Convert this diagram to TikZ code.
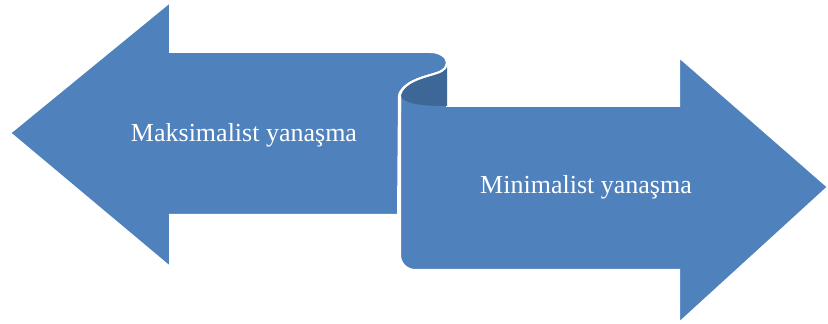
\documentclass[tikz,border=0pt]{standalone}
\usepackage{fontspec}
\setmainfont{Liberation Serif}
\usepackage{xcolor}
\usepackage{tikz}
\usetikzlibrary{positioning}
\usetikzlibrary{calc}

\definecolor{arrowblue}{HTML}{4F81BD}
\definecolor{curlblue}{HTML}{3D6796}

\begin{document}
\begin{tikzpicture}[x=0.5pt,y=-0.5pt,
    arrowshape/.style={fill=arrowblue,draw=white,line width=1pt,line join=miter},
    curlshape/.style={fill=curlblue},
    label/.style={text=white,font=\fontsize{13}{15}\selectfont,inner sep=0pt}]
  \useasboundingbox (0,0) rectangle (828,324);
  % left arrow, its tail rolled up
  \draw[arrowshape] (10,133) -- (170,2) -- (170,52) -- (430,52)
    arc[start angle=-90,end angle=60,x radius=17,y radius=11]
    .. controls (428,76.5) and (404,80) .. (399,95) -- (398,215)
    -- (170,215) -- (170,267) -- cycle;
  % right arrow
  \draw[arrowshape] (447,63) -- (447,106) -- (679,106) -- (679,57) -- (828,187)
    -- (679,323) -- (679,270) -- (415,270)
    arc[start angle=90,end angle=180,radius=15] -- (400,95)
    .. controls (404,80) and (428,76.5) .. (438.5,72.5)
    arc[start angle=60,end angle=0,x radius=17,y radius=11];
  % inside of the curl
  \fill[curlshape] (447,63) arc[start angle=0,end angle=60,x radius=17,y radius=11]
    .. controls (428,76.5) and (404,80) .. (400,95)
    .. controls (403,104) and (422,106) .. (447,106) -- cycle;
  \draw[white,line width=1pt] (447,63) arc[start angle=0,end angle=60,x radius=17,y radius=11]
    .. controls (428,76.5) and (404,80) .. (400,95) -- (400,112);
  % texts
  \node[label] (maks) at (244,135) {Maksimalist yanaşma};
  \node[label] (mini) at (586,187) {Minimalist yanaşma};
\end{tikzpicture}
\end{document}
